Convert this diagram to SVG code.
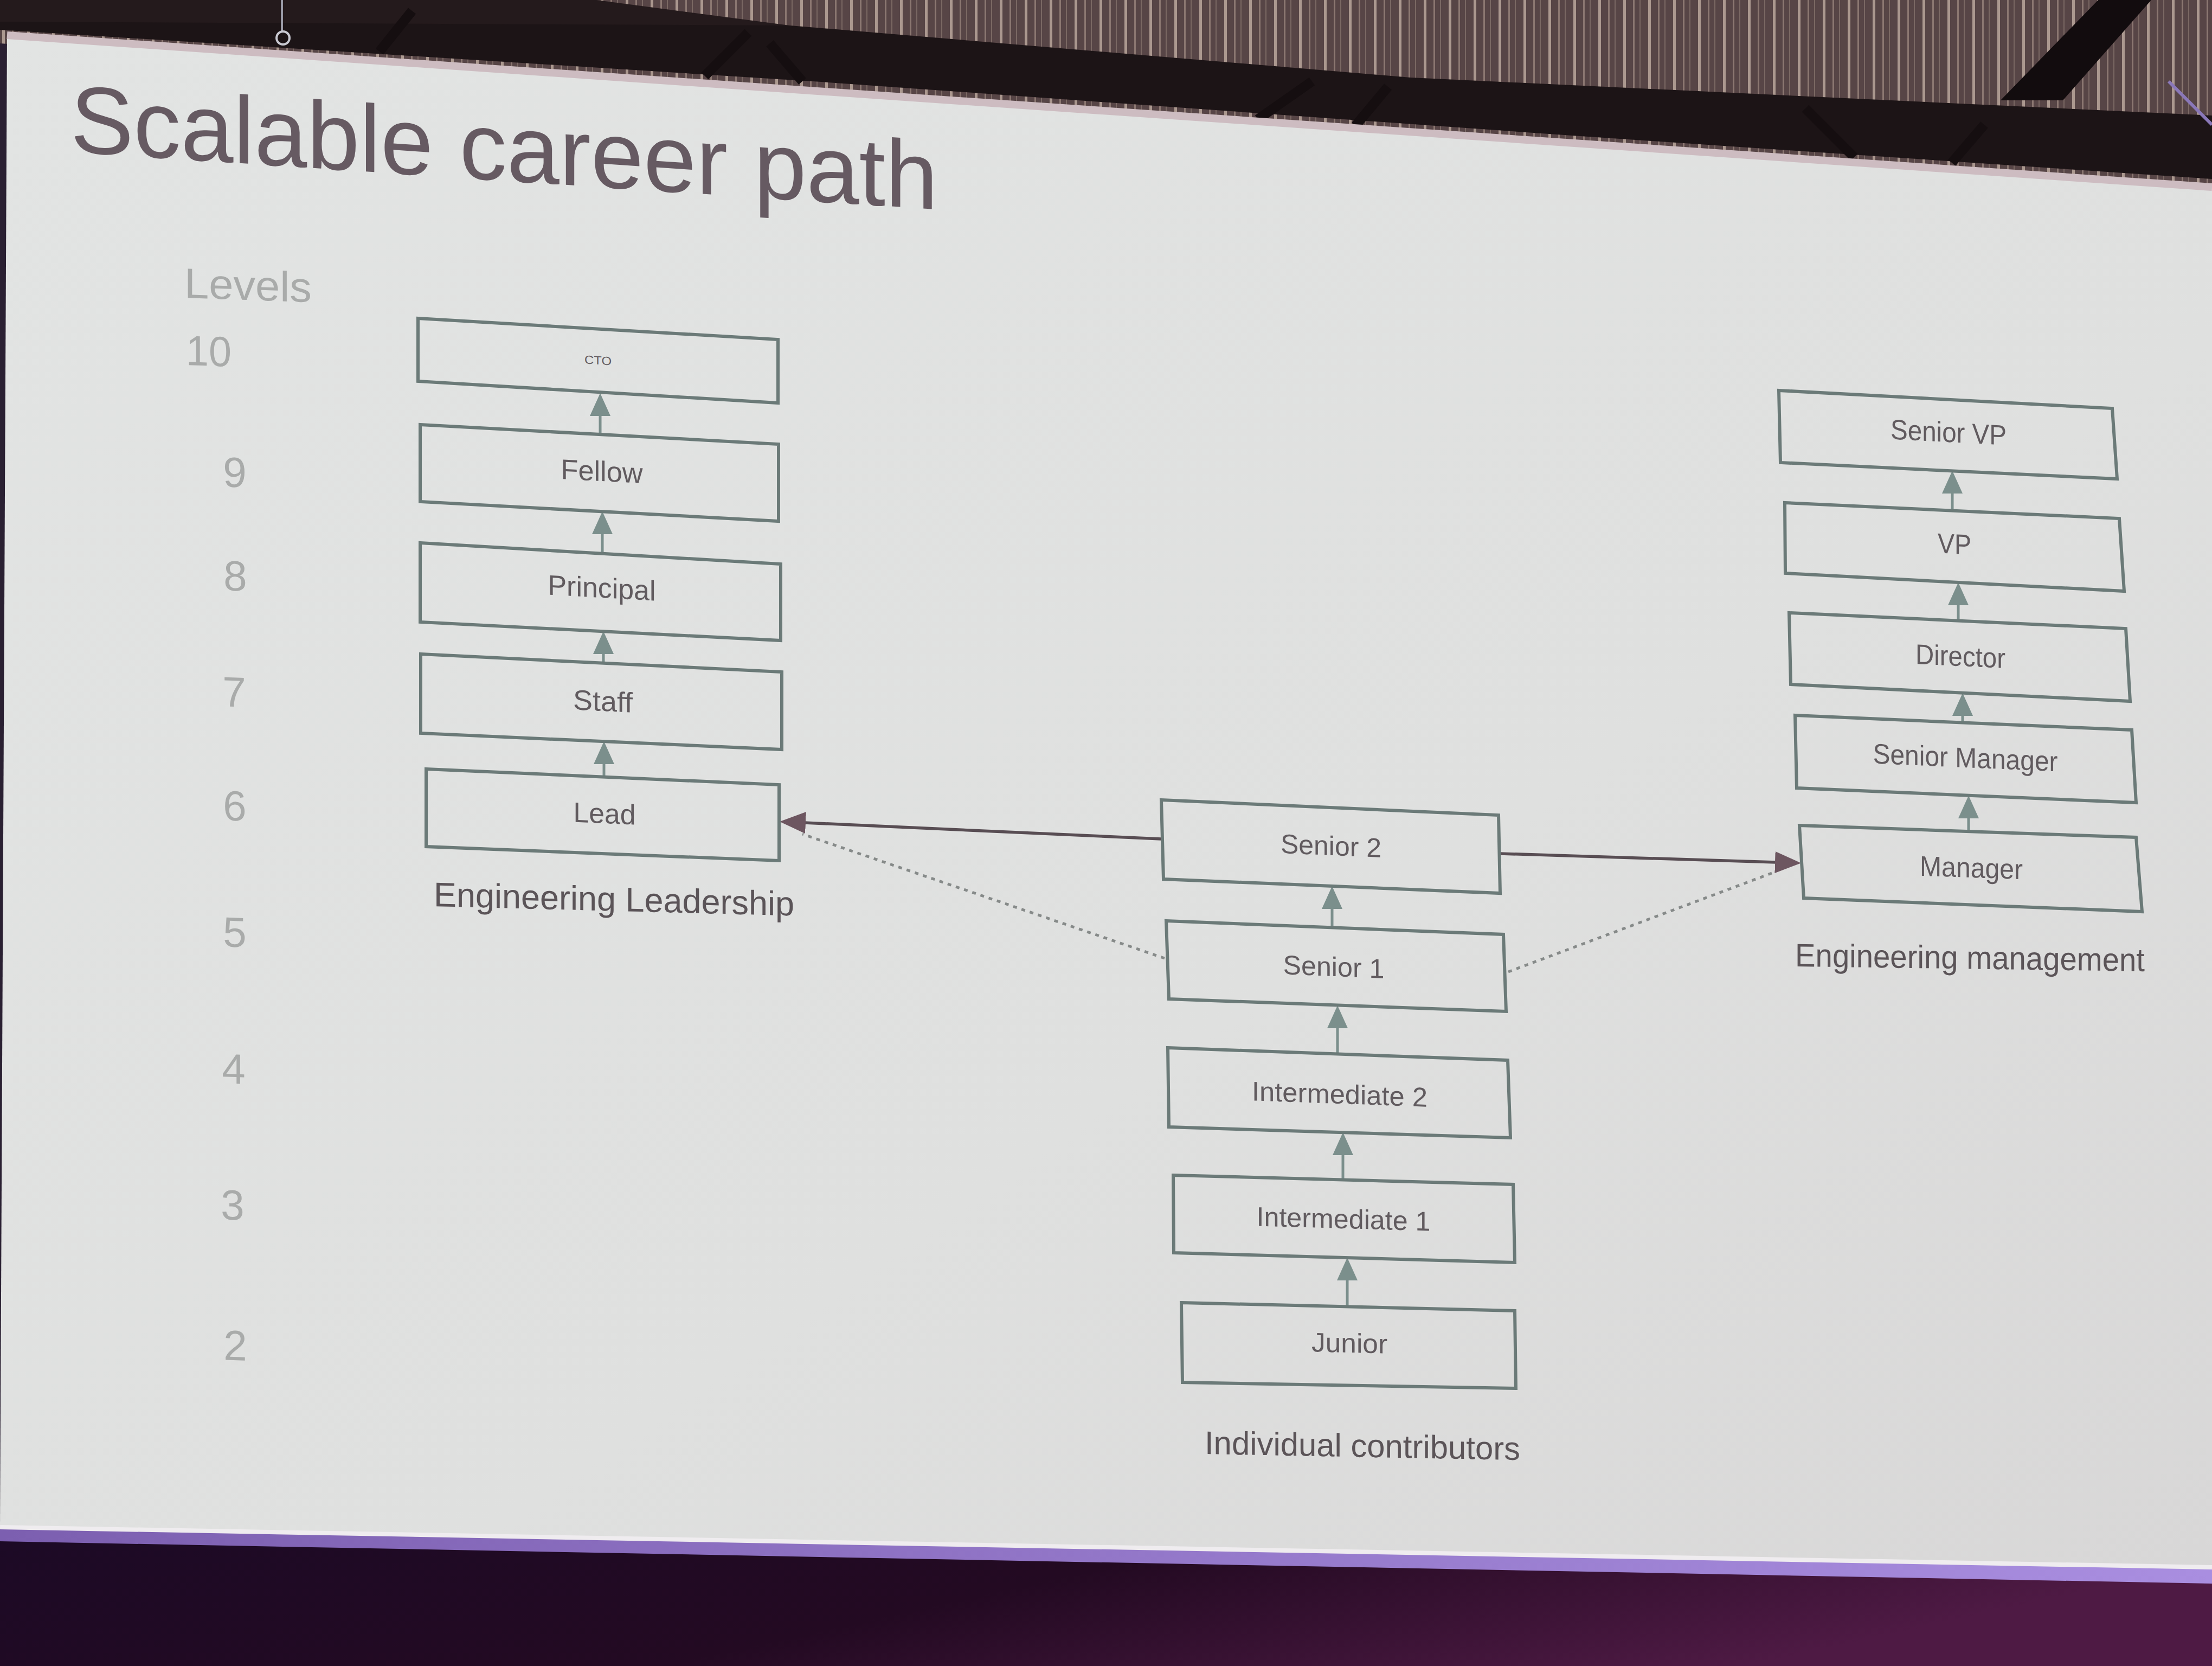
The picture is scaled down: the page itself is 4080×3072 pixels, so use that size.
<svg xmlns="http://www.w3.org/2000/svg" width="4080" height="3072" viewBox="0 0 4080 3072">
  <style>
    .box { fill: none; stroke: #6b7a78; stroke-width: 6; stroke-linejoin: miter; }
    .lbl { font-family: "Liberation Sans", Arial, sans-serif; fill: #615b5f; text-anchor: middle; }
    .sec { font-family: "Liberation Sans", Arial, sans-serif; fill: #5b5458; }
    .lvl { font-family: "Liberation Sans", Arial, sans-serif; fill: #a9abaa; font-size: 78px; }
    .step { stroke: #7b8f8c; stroke-width: 5; fill: none; }
    .move { stroke: #584d53; stroke-width: 5.5; fill: none; }
    .maybe { stroke: #868a89; stroke-width: 5; fill: none; stroke-dasharray: 7 9; }
  </style>
  <defs>
    <linearGradient id="slideFill" x1="0" y1="0" x2="1" y2="1">
      <stop offset="0" stop-color="#e2e4e3"/>
      <stop offset="0.6" stop-color="#dfe0df"/>
      <stop offset="1" stop-color="#d8d7d7"/>
    </linearGradient>
    <linearGradient id="floor" x1="0" y1="0" x2="1" y2="0.3">
      <stop offset="0" stop-color="#1c0a26"/>
      <stop offset="0.55" stop-color="#230a22"/>
      <stop offset="1" stop-color="#4e1a44"/>
    </linearGradient>
    <linearGradient id="rim" x1="0" y1="0" x2="1" y2="0">
      <stop offset="0" stop-color="#7c5fb0"/>
      <stop offset="1" stop-color="#a98ee0"/>
    </linearGradient>
    <pattern id="curtain" width="46" height="400" patternUnits="userSpaceOnUse">
      <rect width="46" height="400" fill="#574546"/>
      <rect x="4" width="5" height="400" fill="#ab988f"/>
      <rect x="22" width="3" height="400" fill="#8b7771"/>
      <rect x="34" width="2" height="400" fill="#7a6863"/>
    </pattern>
    <marker id="up" markerUnits="userSpaceOnUse" markerWidth="44" markerHeight="40" refX="2" refY="19" orient="auto">
      <path d="M0,0 L42,19 L0,38 z" fill="#7b8f8c"/>
    </marker>
    <marker id="cross" markerUnits="userSpaceOnUse" markerWidth="50" markerHeight="42" refX="2" refY="20" orient="auto">
      <path d="M0,0 L48,20 L0,40 z" fill="#6d5660"/>
    </marker>
  </defs>

  <!-- room behind the screen -->
  <rect width="4080" height="3072" fill="#2a2032"/>
  <polygon points="0,0 4080,0 4080,360 0,80" fill="url(#curtain)"/>
  <!-- lighting truss -->
  <polygon points="0,0 1457,47 2602,143 4080,213 4080,330 2900,250 1500,150 0,55" fill="#1c1416"/>
  <polygon points="0,0 1100,0 1457,47 0,40" fill="#241a1c"/>
  <g stroke="#150e10" stroke-width="18">
    <line x1="2320" y1="220" x2="2420" y2="150"/>
    <line x1="2500" y1="232" x2="2560" y2="160"/>
    <line x1="3420" y1="290" x2="3330" y2="200"/>
    <line x1="3600" y1="300" x2="3660" y2="230"/>
    <line x1="1300" y1="140" x2="1380" y2="60"/>
    <line x1="1480" y1="150" x2="1420" y2="80"/>
    <line x1="700" y1="95" x2="760" y2="20"/>
  </g>
  <polygon points="3870,0 3968,0 3805,185 3690,185" fill="#120c0e"/>
  <line x1="520" y1="0" x2="520" y2="60" stroke="#9a9aa6" stroke-width="4"/>
  <circle cx="522" cy="70" r="12" fill="none" stroke="#c8c8d0" stroke-width="4"/>
  <line x1="4000" y1="150" x2="4080" y2="230" stroke="#8a78b8" stroke-width="6"/>

  <!-- floor / stage below the screen -->
  <polygon points="0,2800 4080,2870 4080,3072 0,3072" fill="url(#floor)"/>
  <polygon points="0,2813 4080,2887 4080,2920 0,2842" fill="url(#rim)"/>

  <!-- projection screen -->
  <polygon points="13,65 4080,345 4080,2888 0,2813" fill="url(#slideFill)"/>
  <line x1="13" y1="65" x2="4080" y2="345" stroke="#cdbcc1" stroke-width="14"/>
  <line x1="0" y1="2816" x2="4080" y2="2890" stroke="#efecef" stroke-width="8"/>

  <!-- title -->
  <text transform="translate(130,280) skewY(3.8)" font-family="Liberation Sans, Arial, sans-serif" font-size="176" fill="#665a62" textLength="1600" lengthAdjust="spacingAndGlyphs">Scalable career path</text>

  <!-- level scale -->
  <g id="levels">
    <text class="lvl" transform="translate(340,549) skewY(2)" textLength="235" lengthAdjust="spacingAndGlyphs">Levels</text>
    <text class="lvl" transform="translate(343,673) skewY(2)" textLength="84" lengthAdjust="spacingAndGlyphs">10</text>
    <text class="lvl" text-anchor="middle" transform="translate(433,898) skewY(2)">9</text>
    <text class="lvl" text-anchor="middle" transform="translate(434,1089) skewY(2)">8</text>
    <text class="lvl" text-anchor="middle" transform="translate(432,1303) skewY(2)">7</text>
    <text class="lvl" text-anchor="middle" transform="translate(433,1513) skewY(2)">6</text>
    <text class="lvl" text-anchor="middle" transform="translate(433,1746) skewY(2)">5</text>
    <text class="lvl" text-anchor="middle" transform="translate(431,1998) skewY(2)">4</text>
    <text class="lvl" text-anchor="middle" transform="translate(429,2249) skewY(2)">3</text>
    <text class="lvl" text-anchor="middle" transform="translate(434,2508) skewY(2)">2</text>
  </g>

  <!-- connectors -->
  <g id="connectors">
    <line class="step" x1="1107" y1="801" x2="1107" y2="765" marker-end="url(#up)"/>
    <line class="step" x1="1111" y1="1021" x2="1111" y2="983" marker-end="url(#up)"/>
    <line class="step" x1="1113" y1="1223" x2="1113" y2="1204" marker-end="url(#up)"/>
    <line class="step" x1="1114" y1="1433" x2="1114" y2="1407" marker-end="url(#up)"/>

    <line class="step" x1="2457" y1="1710" x2="2457" y2="1674" marker-end="url(#up)"/>
    <line class="step" x1="2467" y1="1943" x2="2467" y2="1894" marker-end="url(#up)"/>
    <line class="step" x1="2477" y1="2176" x2="2477" y2="2128" marker-end="url(#up)"/>
    <line class="step" x1="2485" y1="2410" x2="2485" y2="2359" marker-end="url(#up)"/>

    <line class="step" x1="3601" y1="942" x2="3601" y2="908" marker-end="url(#up)"/>
    <line class="step" x1="3612" y1="1145" x2="3612" y2="1114" marker-end="url(#up)"/>
    <line class="step" x1="3620" y1="1332" x2="3620" y2="1318" marker-end="url(#up)"/>
    <line class="step" x1="3631" y1="1533" x2="3631" y2="1507" marker-end="url(#up)"/>

    <line class="move" x1="2142" y1="1547" x2="1484" y2="1517" marker-end="url(#cross)"/>
    <line class="move" x1="2767" y1="1574" x2="3276" y2="1590" marker-end="url(#cross)"/>
    <line class="maybe" x1="2148" y1="1767" x2="1480" y2="1538"/>
    <line class="maybe" x1="2782" y1="1792" x2="3276" y2="1607"/>
  </g>

  <!-- engineering leadership track -->
  <g id="cto">
    <polygon class="box" points="771,587 1435,626 1435,743 771,703"/>
    <text class="lbl" font-size="22" transform="translate(1103,672) skewY(3.4)" textLength="50" lengthAdjust="spacingAndGlyphs">CTO</text>
  </g>
  <g id="fellow">
    <polygon class="box" points="775,783 1436,819 1436,961 775,925"/>
    <text class="lbl" font-size="52" transform="translate(1110,887) skewY(3.1)" textLength="151" lengthAdjust="spacingAndGlyphs">Fellow</text>
  </g>
  <g id="principal">
    <polygon class="box" points="775,1001 1440,1040 1440,1181 775,1147"/>
    <text class="lbl" font-size="52" transform="translate(1110,1102) skewY(3.2)" textLength="199" lengthAdjust="spacingAndGlyphs">Principal</text>
  </g>
  <g id="staff">
    <polygon class="box" points="776,1206 1442,1239 1442,1382 776,1352"/>
    <text class="lbl" font-size="52" transform="translate(1112,1311) skewY(2.8)" textLength="110" lengthAdjust="spacingAndGlyphs">Staff</text>
  </g>
  <g id="lead">
    <polygon class="box" points="786,1418 1437,1447 1437,1587 786,1561"/>
    <text class="lbl" font-size="52" transform="translate(1115,1518) skewY(2.6)" textLength="115" lengthAdjust="spacingAndGlyphs">Lead</text>
  </g>
  <text class="sec" font-size="63" transform="translate(800,1671) skewY(1.5)" textLength="665" lengthAdjust="spacingAndGlyphs">Engineering Leadership</text>

  <!-- individual contributor track -->
  <g id="senior2">
    <polygon class="box" points="2142,1475 2764,1503 2767,1647 2146,1621"/>
    <text class="lbl" font-size="50" transform="translate(2455,1577) skewY(2.5)" textLength="186" lengthAdjust="spacingAndGlyphs">Senior 2</text>
  </g>
  <g id="senior1">
    <polygon class="box" points="2151,1698 2773,1723 2778,1865 2156,1842"/>
    <text class="lbl" font-size="50" transform="translate(2460,1800) skewY(2.3)" textLength="187" lengthAdjust="spacingAndGlyphs">Senior 1</text>
  </g>
  <g id="intermediate2">
    <polygon class="box" points="2154,1932 2781,1955 2786,2098 2156,2078"/>
    <text class="lbl" font-size="50" transform="translate(2471,2035) skewY(2.0)" textLength="324" lengthAdjust="spacingAndGlyphs">Intermediate 2</text>
  </g>
  <g id="intermediate1">
    <polygon class="box" points="2164,2167 2791,2184 2794,2328 2165,2310"/>
    <text class="lbl" font-size="50" transform="translate(2478,2265) skewY(1.6)" textLength="321" lengthAdjust="spacingAndGlyphs">Intermediate 1</text>
  </g>
  <g id="junior">
    <polygon class="box" points="2179,2402 2794,2417 2796,2560 2181,2549"/>
    <text class="lbl" font-size="50" transform="translate(2489,2494) skewY(1.4)" textLength="140" lengthAdjust="spacingAndGlyphs">Junior</text>
  </g>
  <text class="sec" font-size="60" transform="translate(2222,2681) skewY(1.1)" textLength="582" lengthAdjust="spacingAndGlyphs">Individual contributors</text>

  <!-- engineering management track -->
  <g id="senior-vp">
    <polygon class="box" points="3281,720 3896,753 3905,883 3284,853"/>
    <text class="lbl" font-size="52" transform="translate(3594,815) skewY(3.0)" textLength="214" lengthAdjust="spacingAndGlyphs">Senior VP</text>
  </g>
  <g id="vp">
    <polygon class="box" points="3292,927 3909,956 3918,1090 3293,1057"/>
    <text class="lbl" font-size="52" transform="translate(3605,1021) skewY(2.7)" textLength="62" lengthAdjust="spacingAndGlyphs">VP</text>
  </g>
  <g id="director">
    <polygon class="box" points="3300,1130 3921,1159 3929,1293 3303,1262"/>
    <text class="lbl" font-size="52" transform="translate(3616,1228) skewY(2.7)" textLength="166" lengthAdjust="spacingAndGlyphs">Director</text>
  </g>
  <g id="senior-manager">
    <polygon class="box" points="3311,1319 3932,1346 3940,1480 3314,1453"/>
    <text class="lbl" font-size="52" transform="translate(3625,1415) skewY(2.5)" textLength="341" lengthAdjust="spacingAndGlyphs">Senior Manager</text>
  </g>
  <g id="manager">
    <polygon class="box" points="3319,1522 3940,1544 3951,1681 3327,1656"/>
    <text class="lbl" font-size="52" transform="translate(3636,1618) skewY(2.0)" textLength="190" lengthAdjust="spacingAndGlyphs">Manager</text>
  </g>
  <text class="sec" font-size="60" transform="translate(3311,1782) skewY(0.8)" textLength="645" lengthAdjust="spacingAndGlyphs">Engineering management</text>
</svg>
